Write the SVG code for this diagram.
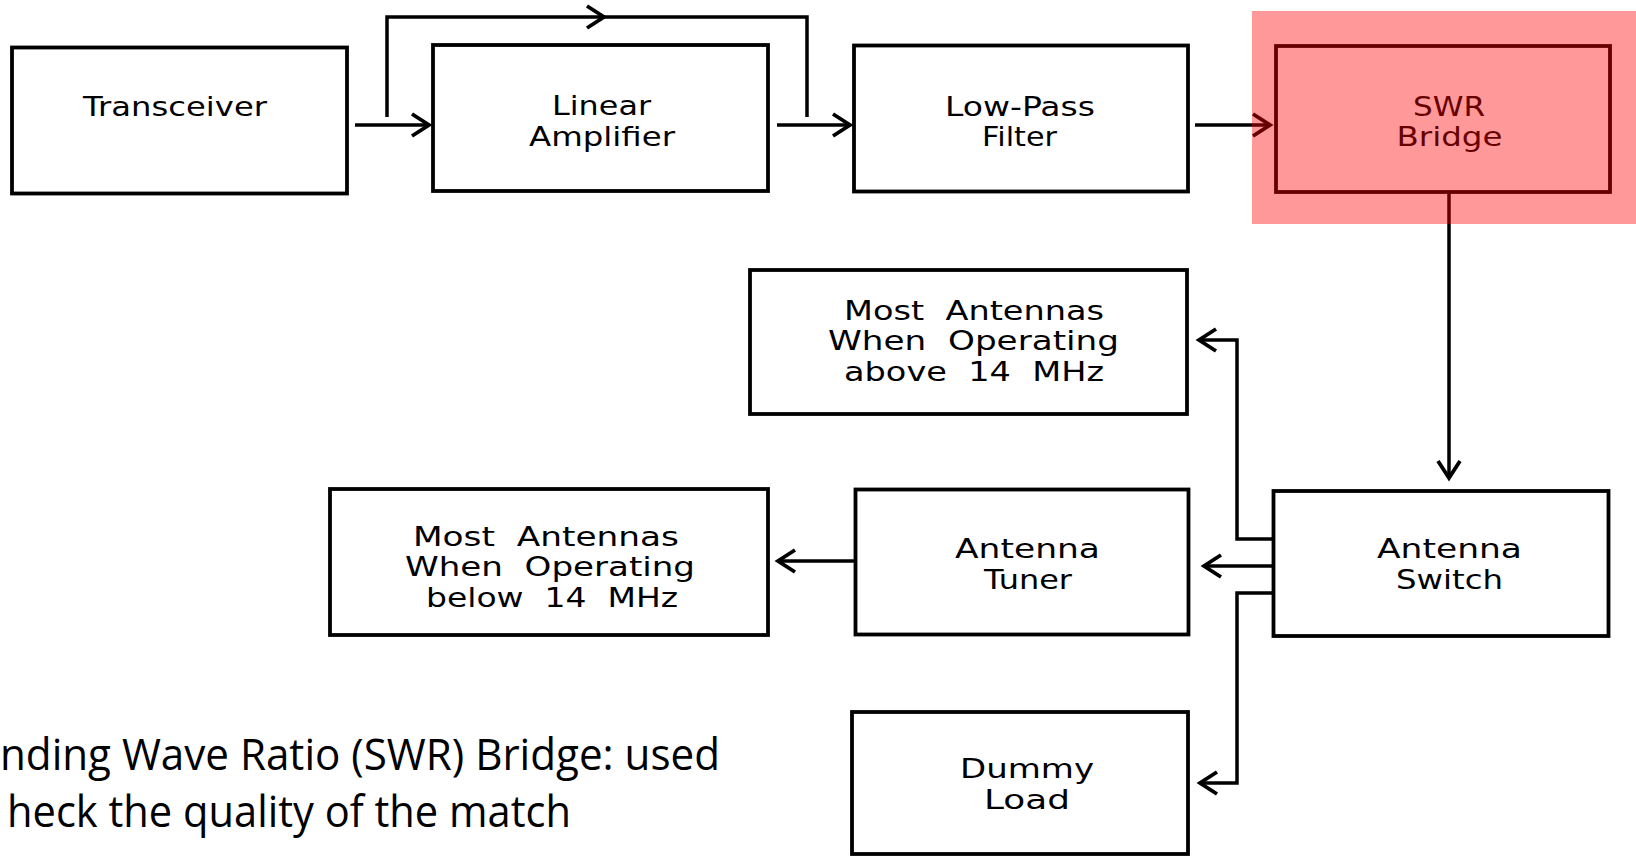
<svg xmlns="http://www.w3.org/2000/svg" width="1636" height="857" viewBox="0 0 1636 857">
<style>
.box{fill:#fff;stroke:#000;stroke-width:3.8}
.lbl{font-family:"DejaVu Sans","Liberation Sans",sans-serif;font-size:27px;fill:#000;text-anchor:middle}
.sm{font-size:26px;white-space:pre}
.con{fill:none;stroke:#000;stroke-width:3.5}
.note{font-family:"Open Sans","Liberation Sans",sans-serif;font-size:43px;fill:#000}
</style>
<defs>
<marker id="ah" markerUnits="userSpaceOnUse" markerWidth="30" markerHeight="30" refX="21" refY="13" orient="auto" overflow="visible">
<path d="M4,2 L21,13 L4,24" fill="none" stroke="#000" stroke-width="3.8"/>
</marker>
</defs>
<rect width="1636" height="857" fill="#fff"/>

<g id="connectors">
<path class="con" d="M355,125 H429" marker-end="url(#ah)"/>
<path class="con" d="M387,117 V17 H604" marker-end="url(#ah)"/>
<path class="con" d="M600,17 H807 V117"/>
<path class="con" d="M777,125 H850" marker-end="url(#ah)"/>
<path class="con" d="M1195,125 H1270" marker-end="url(#ah)"/>
<path class="con" d="M1449,193 V478" marker-end="url(#ah)"/>
<path class="con" d="M1272,539 H1237 V340 H1199" marker-end="url(#ah)"/>
<path class="con" d="M1272,566 H1204" marker-end="url(#ah)"/>
<path class="con" d="M1272,593 H1237 V783 H1200" marker-end="url(#ah)"/>
<path class="con" d="M854,561 H778" marker-end="url(#ah)"/>
</g>

<g id="transceiver">
<rect class="box" x="12" y="47.5" width="335" height="146"/>
<text class="lbl" x="175" y="116" textLength="184" lengthAdjust="spacingAndGlyphs">Transceiver</text>
</g>
<g id="linear-amplifier">
<rect class="box" x="433" y="45" width="335" height="146"/>
<text class="lbl" x="601.5" y="115" textLength="99" lengthAdjust="spacingAndGlyphs">Linear</text>
<text class="lbl" x="602" y="146" textLength="146" lengthAdjust="spacingAndGlyphs">Amplifier</text>
</g>
<g id="low-pass-filter">
<rect class="box" x="854" y="45.5" width="334" height="146"/>
<text class="lbl" x="1020" y="116" textLength="150" lengthAdjust="spacingAndGlyphs">Low-Pass</text>
<text class="lbl" x="1019.5" y="146" textLength="75" lengthAdjust="spacingAndGlyphs">Filter</text>
</g>
<g id="swr-bridge">
<rect class="box" x="1276" y="46" width="334" height="146"/>
<text class="lbl" x="1449" y="116" textLength="72" lengthAdjust="spacingAndGlyphs">SWR</text>
<text class="lbl" x="1449.5" y="146" textLength="106" lengthAdjust="spacingAndGlyphs">Bridge</text>
</g>
<g id="antennas-above">
<rect class="box" x="750" y="270" width="437" height="144"/>
<text class="lbl sm" x="974" y="320" textLength="260" lengthAdjust="spacingAndGlyphs">Most  Antennas</text>
<text class="lbl sm" x="973.5" y="350" textLength="291" lengthAdjust="spacingAndGlyphs">When  Operating</text>
<text class="lbl sm" x="974" y="381" textLength="260" lengthAdjust="spacingAndGlyphs">above  14  MHz</text>
</g>
<g id="antennas-below">
<rect class="box" x="330" y="489" width="438" height="146"/>
<text class="lbl sm" x="546" y="546" textLength="266" lengthAdjust="spacingAndGlyphs">Most  Antennas</text>
<text class="lbl sm" x="550" y="576" textLength="290" lengthAdjust="spacingAndGlyphs">When  Operating</text>
<text class="lbl sm" x="552" y="607" textLength="252" lengthAdjust="spacingAndGlyphs">below  14  MHz</text>
</g>
<g id="antenna-tuner">
<rect class="box" x="855.5" y="489.5" width="333" height="145"/>
<text class="lbl" x="1027.5" y="558" textLength="145" lengthAdjust="spacingAndGlyphs">Antenna</text>
<text class="lbl" x="1028" y="589" textLength="88" lengthAdjust="spacingAndGlyphs">Tuner</text>
</g>
<g id="antenna-switch">
<rect class="box" x="1273.5" y="491" width="335" height="145"/>
<text class="lbl" x="1449.5" y="558" textLength="145" lengthAdjust="spacingAndGlyphs">Antenna</text>
<text class="lbl" x="1449.5" y="589" textLength="107" lengthAdjust="spacingAndGlyphs">Switch</text>
</g>
<g id="dummy-load">
<rect class="box" x="852" y="712" width="336" height="142"/>
<text class="lbl" x="1027" y="778" textLength="134" lengthAdjust="spacingAndGlyphs">Dummy</text>
<text class="lbl" x="1027" y="809" textLength="86" lengthAdjust="spacingAndGlyphs">Load</text>
</g>

<g id="note">
<text class="note" x="0" y="770" textLength="720" lengthAdjust="spacingAndGlyphs">nding Wave Ratio (SWR) Bridge: used</text>
<text class="note" x="7" y="827" textLength="564" lengthAdjust="spacingAndGlyphs">heck the quality of the match</text>
</g>

<rect id="highlight" x="1252" y="11" width="384" height="213" fill="#ff0000" fill-opacity="0.4"/>
</svg>
